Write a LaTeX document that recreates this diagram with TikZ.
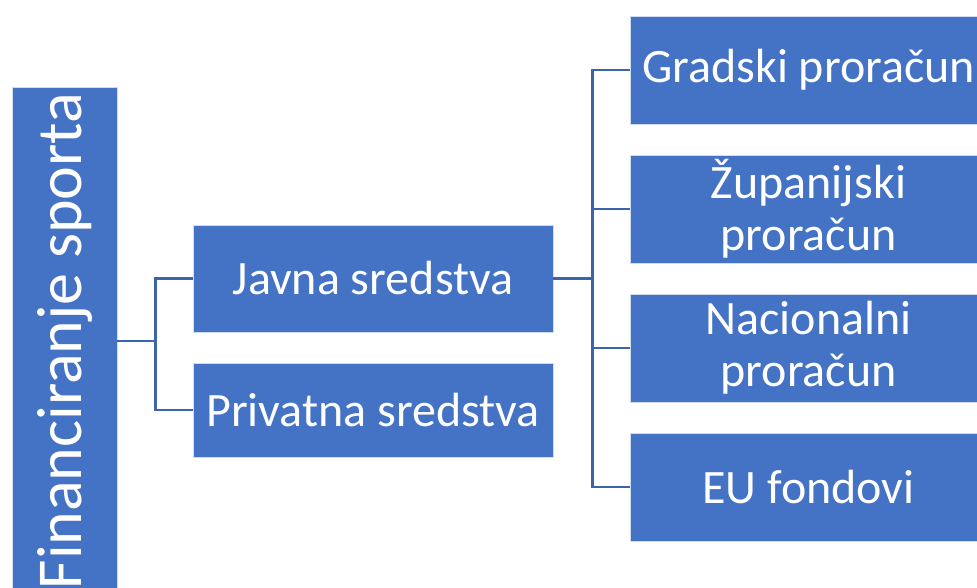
\documentclass[tikz,border=0pt]{standalone}
\usepackage{fontspec}
\setmainfont{Carlito}
\usetikzlibrary{positioning}
\definecolor{plava}{HTML}{4472C4}
\definecolor{linija}{HTML}{3B64AD}
\tikzstyle{blok}=[fill=plava, draw=white!75!plava, line width=0.5pt,
    text=white, align=center, inner sep=0pt]
\tikzstyle{glavni}=[blok, minimum width=78.75pt, minimum height=381pt,
    font=\fontsize{48}{52}\selectfont]
\tikzstyle{srednji}=[blok, minimum width=270pt, font=\fontsize{36}{39}\selectfont]
\tikzstyle{desni}=[blok, minimum width=267.75pt, minimum height=81pt,
    font=\fontsize{36}{39}\selectfont]
\tikzstyle{veza}=[draw=linija, line width=2pt]

\begin{document}
\begin{tikzpicture}[x=0.75pt, y=-0.75pt]
    \useasboundingbox (0,0) rectangle (977,588);
    \clip (0,0) rectangle (977,588);
    \fill[white] (0,0) rectangle (977,588);
    \node (fin) [glavni] at (64.5,341) {\rotatebox{90}{Financiranje sporta}};
    \node (javna) [srednji, minimum height=80.25pt] at (373,278.5) {Javna sredstva};
    \node (privatna) [srednji, minimum height=70.5pt] at (373,410) {Privatna sredstva};
    \node (grad) [desni] at (808.5,70) {Gradski proračun};
    \node (zup) [desni] at (808.5,209) {Županijski\\proračun};
    \node (nac) [desni] at (808.5,348) {Nacionalni\\proračun};
    \node (eu) [desni] at (808.5,487) {EU fondovi};
    \draw[veza] (fin.east) -- ++(38,0) coordinate (k1);
    \draw[veza] (k1) |- (javna.west);
    \draw[veza] (k1) |- (privatna.west);
    \draw[veza] (javna.east) -- ++(39,0) coordinate (k2);
    \foreach \n in {grad,zup,nac,eu}
        \draw[veza] (k2) |- (\n.west);
\end{tikzpicture}
\end{document}
